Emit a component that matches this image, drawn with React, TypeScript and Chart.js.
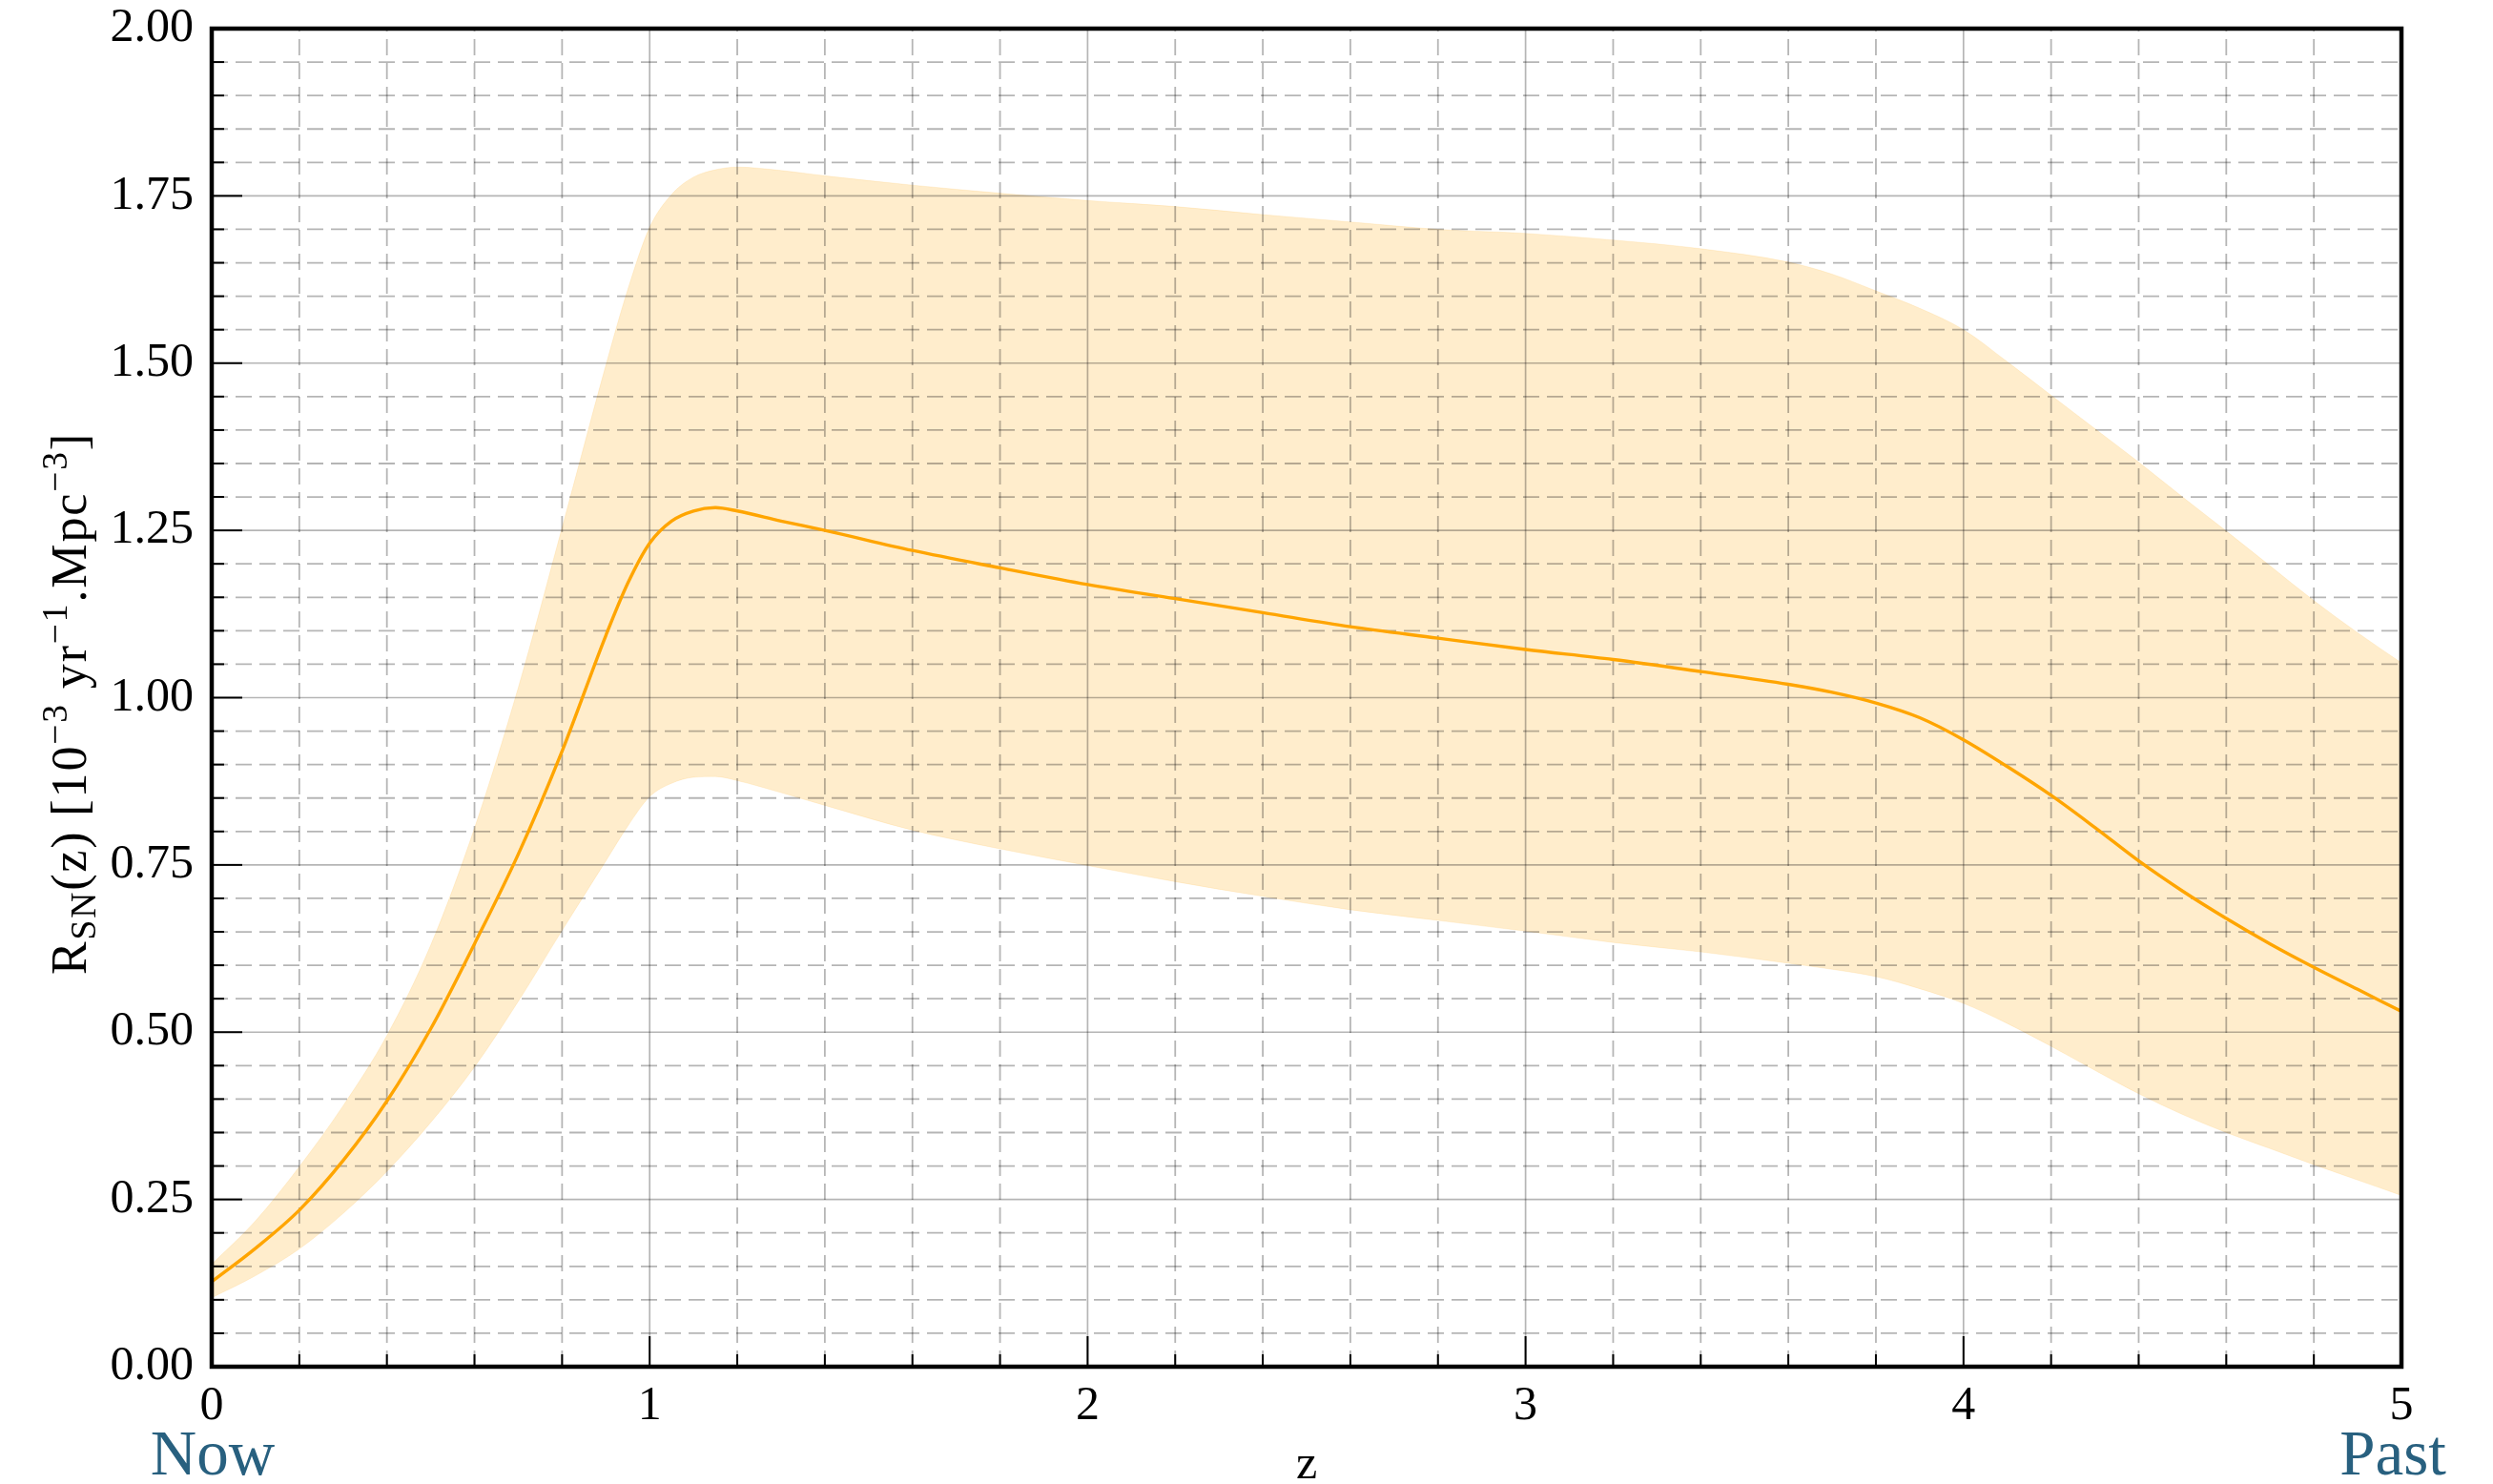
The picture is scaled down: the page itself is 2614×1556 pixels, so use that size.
import React, { useEffect, useRef } from "react";
import { Chart, registerables } from "chart.js";

Chart.register(...registerables);

// ---------------- data ----------------
const zValues = [
  0, 0.1, 0.2, 0.3, 0.4, 0.5, 0.6, 0.7, 0.8, 0.9, 0.95, 1.0, 1.05, 1.1, 1.15, 1.2, 1.3, 1.4,
  1.6, 1.8, 2.0, 2.2, 2.4, 2.6, 2.8, 3.0, 3.2, 3.4, 3.6, 3.7, 3.8, 3.9, 4.0, 4.1, 4.2, 4.3,
  4.4, 4.5, 4.6, 4.7, 4.8, 4.9, 5.0,
];

const rateMedian = [
  0.127, 0.177, 0.234, 0.308, 0.397, 0.505, 0.632, 0.766, 0.92, 1.093, 1.171, 1.231, 1.264,
  1.279, 1.284, 1.279, 1.264, 1.25, 1.22, 1.194, 1.169, 1.148, 1.127, 1.106, 1.089, 1.072,
  1.057, 1.039, 1.02, 1.008, 0.992, 0.97, 0.937, 0.897, 0.854, 0.806, 0.756, 0.711, 0.67,
  0.632, 0.597, 0.564, 0.531,
];

const rateUpper = [
  0.153, 0.218, 0.299, 0.39, 0.495, 0.63, 0.805, 1.015, 1.254, 1.497, 1.61, 1.703, 1.752,
  1.778, 1.789, 1.793, 1.788, 1.78, 1.766, 1.754, 1.743, 1.734, 1.722, 1.711, 1.7, 1.694,
  1.684, 1.671, 1.651, 1.633, 1.608, 1.582, 1.55, 1.502, 1.452, 1.402, 1.352, 1.3, 1.249,
  1.197, 1.145, 1.097, 1.052,
];

const rateLower = [
  0.103, 0.136, 0.176, 0.229, 0.292, 0.365, 0.448, 0.546, 0.652, 0.756, 0.808, 0.852, 0.872,
  0.881, 0.882, 0.876, 0.858, 0.839, 0.802, 0.774, 0.749, 0.725, 0.703, 0.683, 0.667, 0.651,
  0.634, 0.62, 0.603, 0.594, 0.583, 0.565, 0.543, 0.513, 0.479, 0.443, 0.408, 0.377, 0.35,
  0.326, 0.302, 0.279, 0.256,
];

const xTickValues = [0, 1, 2, 3, 4, 5];
const yTickValues = [0, 0.25, 0.5, 0.75, 1.0, 1.25, 1.5, 1.75, 2.0];
const xMinorStep = 0.2;
const yMinorStep = 0.05;

const xTitle = "z";
const leftNote = "Now";
const rightNote = "Past";

// ---------------- styling ----------------
const W = 2614;
const H = 1556;
const FONT = "'Liberation Serif', 'Times New Roman', serif";
const GRID_COLOR = "rgba(0,0,0,0.29)";
const NOTE_COLOR = "#28607f";

type Seg = { t: string; kind: "n" | "sub" | "sup" };
const yTitleSegs: Seg[] = [
  { t: "R", kind: "n" },
  { t: "SN", kind: "sub" },
  { t: "(z) [10", kind: "n" },
  { t: "\u22123", kind: "sup" },
  { t: " yr", kind: "n" },
  { t: "\u22121", kind: "sup" },
  { t: ".Mpc", kind: "n" },
  { t: "\u22123", kind: "sup" },
  { t: "]", kind: "n" },
];

function drawRich(ctx: CanvasRenderingContext2D, segs: Seg[], size: number, targetLen: number) {
  const small = size * 0.72;
  const fontFor = (k: string) => `${k === "n" ? size : small}px ${FONT}`;
  let natural = 0;
  let chars = 0;
  for (const s of segs) {
    ctx.font = fontFor(s.kind);
    natural += ctx.measureText(s.t).width;
    chars += s.t.length;
  }
  const extra = Math.max(0, (targetLen - natural) / chars);
  let x = -targetLen / 2;
  ctx.textAlign = "left";
  ctx.textBaseline = "alphabetic";
  for (const s of segs) {
    ctx.font = fontFor(s.kind);
    const dy = s.kind === "sub" ? 10 : s.kind === "sup" ? -20 : 0;
    for (const ch of s.t) {
      ctx.fillText(ch, x, dy);
      x += ctx.measureText(ch).width + extra;
    }
  }
}

function minorValues(scale: any, step: number) {
  const n = Math.round((scale.max - scale.min) / step);
  const out: number[] = [];
  for (let i = 1; i < n; i++) out.push(scale.min + (i * (scale.max - scale.min)) / n);
  return out;
}

const isMajor = (list: number[], v: number) => list.some((t) => Math.abs(t - v) < 1e-9);

const decorPlugin = {
  id: "decor",
  beforeDatasetDraw(chart: any, args: any) {
    if (args.index !== 0) return;
    const { ctx, chartArea } = chart;
    const { left, right, top, bottom } = chartArea;
    const xs = chart.scales.x;
    const ys = chart.scales.y;
    ctx.save();
    ctx.strokeStyle = GRID_COLOR;
    for (const v of minorValues(xs, xMinorStep)) {
      const major = isMajor(xTickValues, v);
      const px = xs.getPixelForValue(v);
      ctx.lineWidth = major ? 1.7 : 1.8;
      ctx.setLineDash(major ? [] : [17, 8]);
      ctx.beginPath();
      ctx.moveTo(px, bottom);
      ctx.lineTo(px, top);
      ctx.stroke();
    }
    for (const v of minorValues(ys, yMinorStep)) {
      const major = isMajor(yTickValues, v);
      const py = ys.getPixelForValue(v);
      ctx.lineWidth = major ? 1.7 : 1.8;
      ctx.setLineDash(major ? [] : [17, 8]);
      ctx.beginPath();
      ctx.moveTo(left, py);
      ctx.lineTo(right, py);
      ctx.stroke();
    }
    ctx.restore();
  },
  afterDraw(chart: any) {
    const { ctx, chartArea } = chart;
    const { left, right, top, bottom } = chartArea;
    const xs = chart.scales.x;
    const ys = chart.scales.y;
    ctx.save();
    ctx.strokeStyle = "#000";
    ctx.lineWidth = 2;
    ctx.setLineDash([]);
    for (const v of minorValues(xs, xMinorStep)) {
      const major = isMajor(xTickValues, v);
      const px = xs.getPixelForValue(v);
      ctx.beginPath();
      ctx.moveTo(px, bottom);
      ctx.lineTo(px, bottom - (major ? 32 : 13));
      ctx.stroke();
    }
    for (const v of minorValues(ys, yMinorStep)) {
      const major = isMajor(yTickValues, v);
      const py = ys.getPixelForValue(v);
      ctx.beginPath();
      ctx.moveTo(left, py);
      ctx.lineTo(left + (major ? 32 : 13), py);
      ctx.stroke();
    }
    ctx.lineWidth = 4.5;
    ctx.strokeRect(left, top, right - left, bottom - top);

    ctx.fillStyle = "#000";
    ctx.font = `50px ${FONT}`;
    ctx.textAlign = "center";
    ctx.textBaseline = "alphabetic";
    ctx.fillText(xTitle, (left + right) / 2, 1550);

    ctx.fillStyle = NOTE_COLOR;
    ctx.font = `67px ${FONT}`;
    ctx.fillText(leftNote, xs.getPixelForValue(xs.min) + 1, 1546);
    ctx.fillText(rightNote, xs.getPixelForValue(xs.max) - 9, 1546);

    ctx.fillStyle = "#000";
    ctx.translate(90, (top + bottom) / 2 + 6);
    ctx.rotate(-Math.PI / 2);
    drawRich(ctx, yTitleSegs, 52, 569);
    ctx.restore();
  },
};

export default function App() {
  const ref = useRef<HTMLCanvasElement | null>(null);

  useEffect(() => {
    document.body.style.margin = "0";
    document.body.style.overflow = "hidden";
    const canvas = ref.current;
    if (!canvas) return;
    const pts = (arr: number[]) => zValues.map((x, i) => ({ x, y: arr[i] }));
    const chart = new Chart(canvas, {
      type: "line",
      data: {
        datasets: [
          {
            label: "median",
            data: pts(rateMedian),
            borderColor: "#ffa500",
            borderWidth: 3.4,
            pointRadius: 0,
            fill: false,
            cubicInterpolationMode: "monotone",
          },
          {
            label: "upper",
            data: pts(rateUpper),
            borderColor: "rgba(255,165,0,0.12)",
            borderWidth: 1,
            pointRadius: 0,
            backgroundColor: "rgba(255,165,0,0.2)",
            fill: "+1",
            cubicInterpolationMode: "monotone",
          },
          {
            label: "lower",
            data: pts(rateLower),
            borderColor: "rgba(255,165,0,0.12)",
            borderWidth: 1,
            pointRadius: 0,
            fill: false,
            cubicInterpolationMode: "monotone",
          },
        ],
      },
      options: {
        responsive: false,
        animation: false,
        devicePixelRatio: 1,
        events: [],
        layout: { padding: { left: 0, right: 96, top: 30, bottom: 0 } },
        plugins: { legend: { display: false }, tooltip: { enabled: false } },
        scales: {
          x: {
            type: "linear",
            min: 0,
            max: 5,
            grid: { display: false, drawTicks: false },
            border: { display: false },
            afterBuildTicks: (scale: any) => {
              scale.ticks = xTickValues.map((v) => ({ value: v }));
            },
            afterFit: (scale: any) => {
              scale.height = 123;
              scale.paddingLeft = 0;
              scale.paddingRight = 0;
            },
            ticks: {
              padding: 12,
              maxRotation: 0,
              autoSkip: false,
              color: "#000",
              font: { family: FONT, size: 50 },
              callback: (v: any) => String(v),
            },
          },
          y: {
            type: "linear",
            min: 0,
            max: 2,
            grid: { display: false, drawTicks: false },
            border: { display: false },
            afterBuildTicks: (scale: any) => {
              scale.ticks = yTickValues.map((v) => ({ value: v }));
            },
            afterFit: (scale: any) => {
              scale.width = 222;
              scale.paddingTop = 0;
              scale.paddingBottom = 0;
            },
            ticks: {
              padding: 19,
              autoSkip: false,
              color: "#000",
              font: { family: FONT, size: 50 },
              callback: (v: any) => Number(v).toFixed(2),
            },
          },
        },
      },
      plugins: [decorPlugin],
    });
    return () => chart.destroy();
  }, []);

  return (
    <canvas
      ref={ref}
      width={W}
      height={H}
      style={{ display: "block", width: W + "px", height: H + "px" }}
    />
  );
}
